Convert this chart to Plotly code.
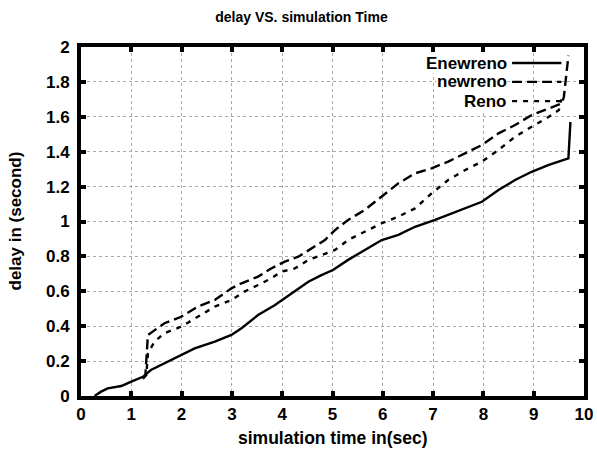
import plotly.graph_objects as go

# Enewreno (solid)
en_x = [0.27, 0.40, 0.53, 0.80, 1.00, 1.23, 1.39, 1.66, 1.99, 2.26, 2.66, 2.99, 3.19, 3.52, 3.85, 4.18, 4.52, 4.78, 5.01, 5.31, 5.64, 5.98, 6.31, 6.64, 7.04, 7.37, 7.64, 7.97, 8.30, 8.63, 8.96, 9.30, 9.69, 9.73]
en_y = [0.0, 0.025, 0.044, 0.057, 0.082, 0.11, 0.149, 0.187, 0.235, 0.273, 0.311, 0.35, 0.388, 0.464, 0.52, 0.588, 0.655, 0.693, 0.722, 0.78, 0.837, 0.894, 0.923, 0.97, 1.009, 1.047, 1.075, 1.113, 1.18, 1.238, 1.285, 1.324, 1.362, 1.57]

# newreno (long dash)
nr_x = [1.23, 1.28, 1.33, 1.66, 1.99, 2.32, 2.66, 2.99, 3.19, 3.52, 3.78, 4.05, 4.32, 4.58, 4.85, 5.05, 5.31, 5.64, 5.98, 6.31, 6.64, 6.97, 7.30, 7.64, 7.97, 8.30, 8.63, 8.96, 9.30, 9.56, 9.60, 9.69]
nr_y = [0.10, 0.12, 0.35, 0.417, 0.454, 0.512, 0.55, 0.617, 0.646, 0.684, 0.731, 0.77, 0.798, 0.846, 0.894, 0.951, 1.009, 1.066, 1.142, 1.219, 1.276, 1.305, 1.343, 1.391, 1.438, 1.505, 1.553, 1.61, 1.649, 1.677, 1.715, 1.95]

# Reno (short dash)
re_x = [1.23, 1.30, 1.33, 1.46, 1.66, 1.99, 2.32, 2.66, 2.99, 3.25, 3.52, 3.78, 3.98, 4.25, 4.52, 4.78, 5.05, 5.31, 5.64, 5.98, 6.31, 6.64, 6.97, 7.30, 7.64, 7.97, 8.30, 8.63, 8.96, 9.30, 9.50, 9.55]
re_y = [0.10, 0.12, 0.245, 0.311, 0.36, 0.397, 0.454, 0.512, 0.55, 0.598, 0.636, 0.674, 0.712, 0.731, 0.779, 0.808, 0.837, 0.894, 0.942, 0.99, 1.028, 1.075, 1.161, 1.238, 1.295, 1.343, 1.41, 1.486, 1.543, 1.6, 1.639, 1.70]

names = ["Enewreno", "newreno", "Reno"]
dashes = ["solid", "10px,5px", "5px,6px"]
xs = [en_x, nr_x, re_x]
ys = [en_y, nr_y, re_y]

x_ticks = [0, 1, 2, 3, 4, 5, 6, 7, 8, 9, 10]
y_ticks = [0, 0.2, 0.4, 0.6, 0.8, 1, 1.2, 1.4, 1.6, 1.8, 2]
y_tick_labels = ["0", "0.2", "0.4", "0.6", "0.8", "1", "1.2", "1.4", "1.6", "1.8", "2"]

title_text = "delay VS. simulation Time"
x_title = "simulation time in(sec)"
y_title = "delay in (second)"

FONT = "Liberation Sans, Arial, sans-serif"

fig = go.Figure()
for x, y, n, d in zip(xs, ys, names, dashes):
    fig.add_trace(go.Scatter(x=x, y=y, mode="lines", name=n, showlegend=False,
                             line=dict(color="black", width=2.4, dash=d)))

# custom legend: text on the left, sample line on the right
legend_y = [0.954, 0.9, 0.845]
for n, d, yp in zip(names, dashes, legend_y):
    fig.add_annotation(x=0.848, y=yp, xref="paper", yref="paper", text=f"<b>{n}</b>",
                       showarrow=False, xanchor="right", yanchor="middle",
                       font=dict(family=FONT, size=17, color="black"),
                       bgcolor="white", borderpad=0)
    fig.add_shape(type="line", xref="paper", yref="paper", x0=0.857, x1=0.955, y0=yp, y1=yp,
                  line=dict(color="black", width=2.4, dash=d))

# axis titles
fig.add_annotation(x=0.5, y=0, xref="paper", yref="paper", yshift=-42, text=f"<b>{x_title}</b>",
                   showarrow=False, xanchor="center", yanchor="middle",
                   font=dict(family=FONT, size=17.5, color="black"))
fig.add_annotation(x=0, y=0.5, xref="paper", yref="paper", xshift=-66, text=f"<b>{y_title}</b>",
                   showarrow=False, xanchor="center", yanchor="middle", textangle=-90,
                   font=dict(family=FONT, size=17, color="black"))

axis_common = dict(
    showline=True, linecolor="black", linewidth=4, mirror="allticks",
    ticks="inside", ticklen=5, tickwidth=4, tickcolor="black",
    showgrid=True, gridcolor="#a8a8a8", griddash="dot", gridwidth=1,
    zeroline=False, automargin=False,
    tickfont=dict(family=FONT, size=17, color="black"),
)

fig.update_layout(
    width=597, height=454,
    margin=dict(l=81, r=13, t=47, b=58),
    paper_bgcolor="white", plot_bgcolor="white",
    title=dict(text=f"<b>{title_text}</b>", x=0.505, xanchor="center",
               y=0.962, yanchor="middle", font=dict(family=FONT, size=14, color="black")),
    xaxis=dict(range=[0, 10], tickvals=x_ticks, ticktext=[f"<b>{t}</b>" for t in x_ticks],
               **axis_common),
    yaxis=dict(range=[0, 2], tickvals=y_ticks, ticktext=[f"<b>{t}</b>" for t in y_tick_labels],
               ticklabelstandoff=4, **axis_common),
)

fig.write_html("out.html")
